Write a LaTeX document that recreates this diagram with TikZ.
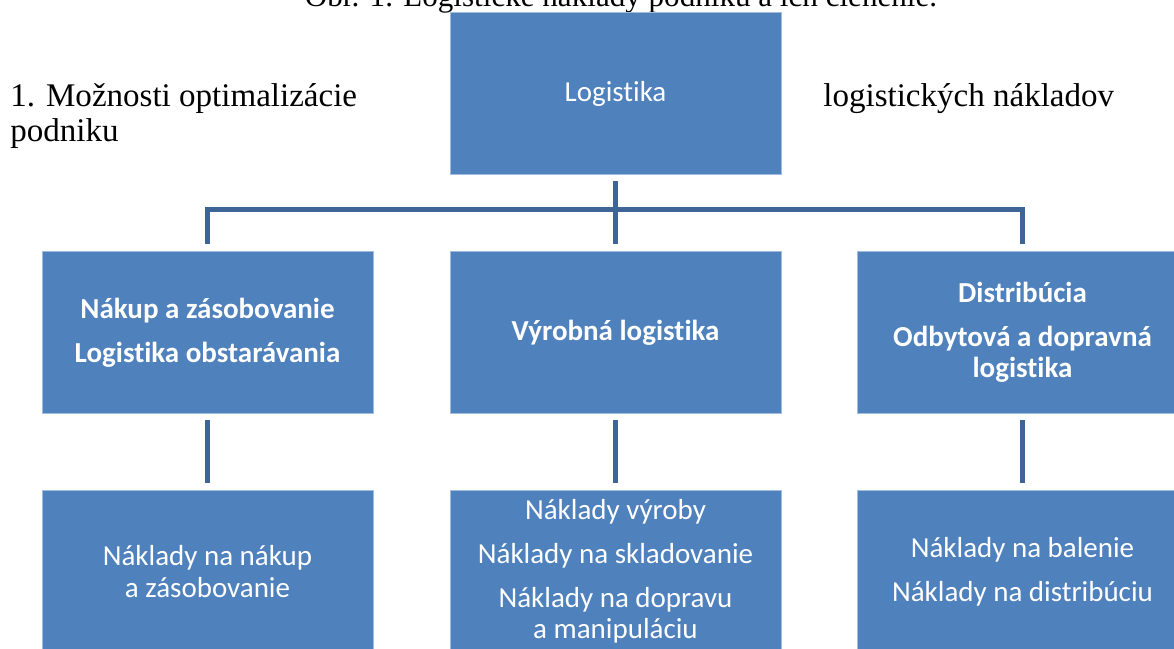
\documentclass[tikz,border=0pt]{standalone}
\usepackage{fontspec}
\setmainfont{Liberation Serif}
\newfontfamily\boxfont[Ligatures=NoCommon]{Carlito}
\usepackage{tikz}
\usetikzlibrary{positioning}
\definecolor{boxblue}{RGB}{79,129,189}
\definecolor{boxedge}{RGB}{160,188,224}
\definecolor{lineblue}{RGB}{62,101,150}

\begin{document}
\begin{tikzpicture}[x=0.02cm,y=-0.02cm,
  box/.style={rectangle, fill=boxblue, draw=boxedge, line width=0.5pt,
    minimum width=6.62cm, minimum height=3.24cm, inner sep=0pt,
    text=white, align=center, font=\boxfont\fontsize{16.5}{18}\selectfont},
  hbox/.style={box, font=\boxfont\bfseries\fontsize{16.5}{18}\selectfont},
  conn/.style={draw=lineblue, line width=2.85pt, shorten <=3.4pt, shorten >=4pt},
  doc/.style={font=\fontsize{18.8}{20}\selectfont, inner sep=0pt}]
\useasboundingbox (0,0) rectangle (1174,649);
\clip (0,0) rectangle (1174,649);

% text of the page behind the diagram
\node[doc, anchor=base, font=\fontsize{17.7}{20}\selectfont] (cap) at (621,7) {Obr. 1. Logistické náklady podniku a ich členenie.};
\node[doc, anchor=base west] (t1) at (10,106) {1. Možnosti optimalizácie};
\node[doc, anchor=base west] (t2) at (10,141) {podniku};
\node[doc, anchor=base west] (t3) at (823,106) {logistických nákladov};

\node[box] (10) at (615.5,93.5) {Logistika};

\node[hbox] (01) at (207.5,332.5) {Nákup a zásobovanie\\[7pt]Logistika obstarávania};
\node[hbox] (11) at (615.5,332.5) {Výrobná logistika};
\node[hbox] (21) at (1022.5,332.5) {Distribúcia\\[7pt]Odbytová a dopravná\\logistika};

\node[box] (02) at (207.5,571.5) {Náklady na nákup\\a zásobovanie};
\node[box] (12) at (615.5,571.5) {Náklady výroby\\[7pt]Náklady na skladovanie\\[7pt]Náklady na dopravu\\a manipuláciu};
\node[box] (22) at (1022.5,571.5) {Náklady na balenie\\[7pt]Náklady na distribúciu};

\draw[conn] (10.south) -- ++(0,35) -| (01.north);
\draw[conn] (10.south) -- ++(0,35) -| (21.north);
\path[conn] (10) edge (11)
           (01) edge (02)
           (11) edge (12)
           (21) edge (22);
\end{tikzpicture}
\end{document}
